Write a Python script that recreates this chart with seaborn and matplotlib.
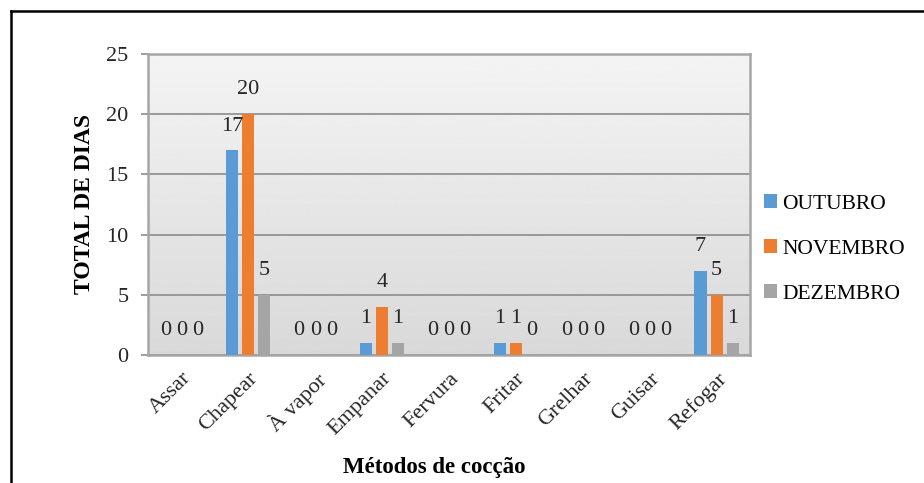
import numpy as np
import pandas as pd
import matplotlib
matplotlib.use("Agg")
import matplotlib.pyplot as plt
from matplotlib.lines import Line2D
from matplotlib.patches import Patch
import seaborn as sns

categories = ["Assar", "Chapear", "À vapor", "Empanar", "Fervura", "Fritar", "Grelhar", "Guisar", "Refogar"]
series_names = ["OUTUBRO", "NOVEMBRO", "DEZEMBRO"]
outubro = [0, 17, 0, 1, 0, 1, 0, 0, 7]
novembro = [0, 20, 0, 4, 0, 1, 0, 0, 5]
dezembro = [0, 5, 0, 1, 0, 0, 0, 0, 1]
y_ticks = [0, 5, 10, 15, 20, 25]
colors = ["#5B9BD5", "#ED7D31", "#A5A5A5"]

rows = []
for name, vals in zip(series_names, [outubro, novembro, dezembro]):
    for c, v in zip(categories, vals):
        rows.append({"cat": c, "serie": name, "val": v})
df = pd.DataFrame(rows)

plt.rcParams["font.family"] = ["Liberation Serif", "DejaVu Serif"]

fig = plt.figure(figsize=(9.24, 4.83), dpi=100)
W, H = 924, 483
ax = fig.add_axes([148 / W, 1 - 355 / H, (750 - 148) / W, (355 - 54) / H])

# gradient background of plot area
grad = np.linspace(0.85, 0.955, 256).reshape(-1, 1)
ax.imshow(grad, cmap="gray", vmin=0, vmax=1, aspect="auto",
          extent=[-0.5, len(categories) - 0.5, 0, 25], origin="lower", zorder=0)

sns.barplot(data=df, x="cat", y="val", hue="serie", order=categories,
            hue_order=series_names, palette=colors, width=0.72, gap=0.25,
            saturation=1, ax=ax, legend=False, zorder=3)

ax.set_xlim(-0.5, len(categories) - 0.5)
ax.set_ylim(0, 25)
ax.set_yticks(y_ticks)
ax.set_yticklabels([str(t) for t in y_ticks], fontsize=16, color="#262626")
ax.grid(axis="y", color="#8C8C8C", linewidth=1.2, zorder=1)
for line in ax.get_ygridlines():
    line.set_zorder(1)
ax.tick_params(axis="y", length=5, width=1.2, color="#8C8C8C", pad=9)
ax.tick_params(axis="x", length=0, pad=10)
ax.set_xticks(range(len(categories)))
ax.set_xticklabels(categories, rotation=45, ha="right", va="top",
                   rotation_mode="anchor", fontsize=16, color="#262626")
for s in ax.spines.values():
    s.set_color("#A6A6A6")
    s.set_linewidth(1.8)

ax.set_ylabel("TOTAL DE DIAS", fontsize=17, fontweight="bold", va="center")
ax.yaxis.set_label_coords((84 - 148) / 602, 0.5)
ax.set_xlabel("Métodos de cocção", fontsize=16.5, fontweight="bold", va="center")
ax.xaxis.set_label_coords((434.5 - 148) / 602, (355 - 467) / 301)

# data labels
for container in ax.containers:
    for bar in container:
        h = bar.get_height()
        xc = bar.get_x() + bar.get_width() / 2
        ax.annotate(f"{int(h)}", (xc, h), xytext=(0, 17.5), textcoords="offset points",
                    ha="center", va="center", fontsize=16, color="#262626",
                    annotation_clip=False, zorder=5)

handles = [Patch(facecolor=c, edgecolor="none") for c in colors]
fig.legend(handles, series_names, loc="center left", bbox_to_anchor=(764 / W, 1 - 249 / H),
           frameon=False, fontsize=15.5, handlelength=0.6, handleheight=0.6,
           handletextpad=0.25, labelspacing=1.18, borderaxespad=0, borderpad=0)

# outer frame (cropped)
fig.add_artist(Line2D([11 / W, 11 / W], [0, 1 - 11 / H], transform=fig.transFigure,
                      color="black", linewidth=1.8))
fig.add_artist(Line2D([11 / W, 1.0], [1 - 11 / H, 1 - 11 / H], transform=fig.transFigure,
                      color="black", linewidth=1.8))

fig.savefig("out.png", dpi=100, facecolor="white")
